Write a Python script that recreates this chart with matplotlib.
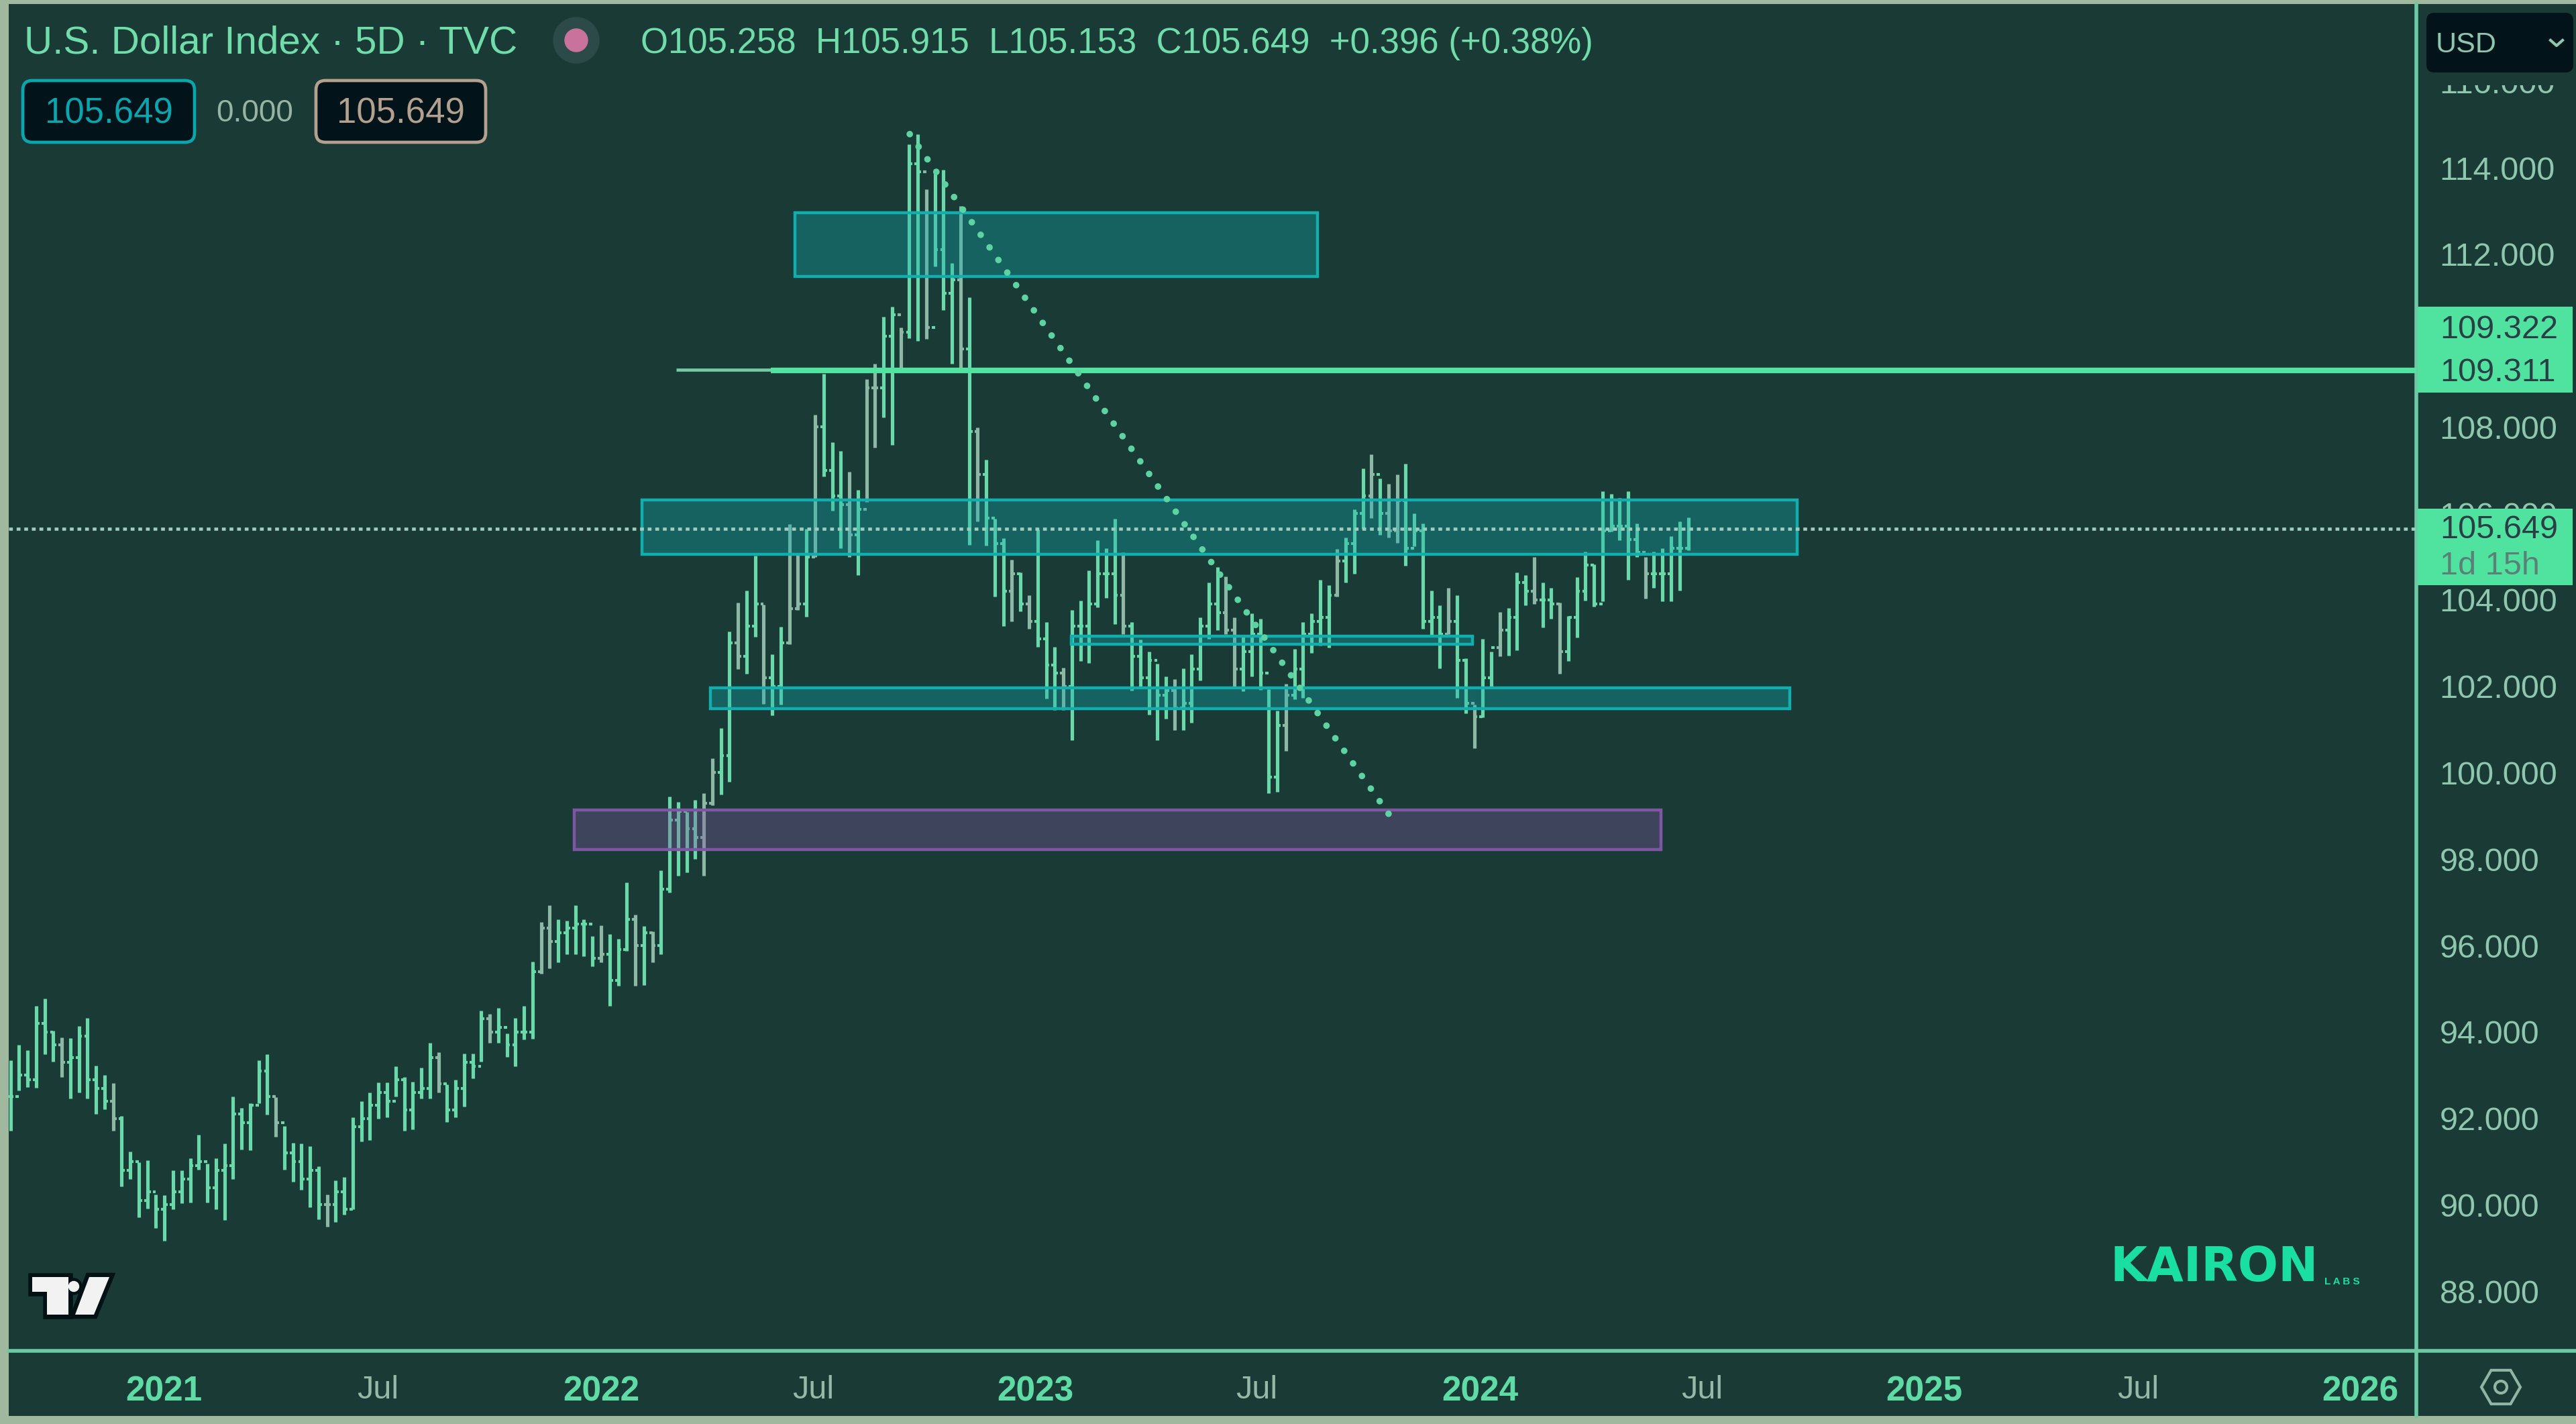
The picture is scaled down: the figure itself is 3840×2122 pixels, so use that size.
import numpy as np
import matplotlib
matplotlib.use("Agg")
import matplotlib.pyplot as plt
from matplotlib.patches import Rectangle, FancyBboxPatch, Polygon, Ellipse, RegularPolygon

# weekly bars
highs = [
    93.35, 93.70, 93.57, 94.60, 94.78, 94.03, 93.87, 93.85, 94.14, 94.32,
    93.22, 93.01, 92.82, 92.05, 91.24, 90.99, 91.03, 90.24, 90.22, 90.79,
    90.79, 91.07, 91.62, 90.96, 91.08, 91.42, 92.51, 92.24, 92.35, 93.35,
    93.48, 92.49, 91.82, 91.44, 91.42, 91.35, 90.89, 90.24, 90.56, 90.64,
    92.03, 92.39, 92.60, 92.84, 92.84, 93.20, 92.96, 92.85, 93.17, 93.75,
    93.53, 92.78, 92.89, 93.50, 93.50, 94.50, 94.42, 94.55, 93.96, 94.32,
    94.60, 95.63, 96.55, 96.94, 96.60, 96.58, 96.94, 96.60, 96.22, 96.47,
    96.27, 96.15, 97.46, 96.71, 96.45, 96.32, 97.74, 99.45, 99.32, 99.09,
    99.37, 99.53, 100.33, 101.04, 103.27, 103.93, 104.22, 105.02, 103.89, 102.74,
    103.37, 105.76, 105.05, 105.64, 108.28, 109.24, 107.65, 107.44, 106.96, 106.55,
    109.11, 109.47, 110.56, 110.79, 110.30, 114.54, 114.77, 113.51, 113.97, 113.95,
    111.80, 113.12, 111.00, 107.99, 107.24, 105.88, 105.42, 104.93, 104.63, 104.10,
    105.63, 103.49, 102.91, 102.43, 103.77, 103.98, 104.68, 105.38, 105.20, 105.88,
    105.10, 103.49, 103.09, 102.80, 102.53, 102.23, 102.17, 102.41, 102.74, 103.60,
    104.40, 104.76, 104.55, 103.60, 103.16, 103.69, 103.56, 101.94, 101.43, 102.05,
    102.86, 103.48, 103.69, 104.46, 104.34, 105.18, 105.44, 106.10, 107.05, 107.37,
    106.81, 106.69, 106.90, 107.15, 106.00, 105.77, 104.22, 103.87, 104.28, 104.10,
    102.65, 101.58, 103.10, 102.80, 103.72, 103.82, 104.63, 104.58, 105.00, 104.40,
    104.28, 103.93, 103.63, 104.52, 105.12, 104.82, 106.51, 106.45, 106.36, 106.51,
    105.77, 105.00, 105.12, 105.20, 105.47, 105.82, 105.915,
]
lows = [
    91.71, 92.64, 92.72, 92.71, 93.48, 93.32, 92.96, 92.46, 92.60, 92.46,
    92.10, 92.21, 91.71, 90.42, 90.60, 89.71, 89.92, 89.46, 89.17, 89.89,
    90.03, 90.06, 90.81, 90.06, 89.89, 89.65, 90.60, 91.28, 91.27, 92.35,
    92.08, 91.57, 90.81, 90.53, 90.35, 89.94, 89.67, 89.49, 89.60, 89.78,
    89.89, 91.46, 91.49, 92.00, 92.03, 92.50, 91.72, 91.74, 92.46, 92.46,
    92.60, 91.91, 92.03, 92.28, 92.92, 93.32, 93.75, 93.75, 93.42, 93.21,
    93.82, 93.84, 95.35, 95.47, 95.62, 95.80, 95.80, 95.75, 95.52, 95.62,
    94.60, 95.07, 95.88, 95.07, 95.08, 95.62, 95.80, 97.23, 97.61, 97.69,
    98.00, 97.61, 99.25, 99.49, 99.79, 102.40, 102.29, 103.15, 101.59, 101.33,
    101.57, 102.98, 103.77, 103.61, 104.99, 106.86, 106.06, 105.20, 104.99, 104.57,
    106.27, 107.53, 108.23, 107.59, 109.36, 110.06, 109.99, 110.04, 111.72, 110.71,
    109.47, 109.35, 105.27, 105.82, 105.26, 104.07, 103.39, 103.50, 103.74, 103.33,
    102.91, 101.72, 101.45, 101.45, 100.76, 102.58, 102.54, 103.83, 104.04, 103.44,
    103.21, 101.90, 101.96, 101.34, 100.75, 101.25, 100.99, 100.99, 101.16, 102.14,
    103.10, 103.30, 103.21, 101.97, 101.88, 102.23, 101.91, 99.53, 99.56, 100.51,
    101.70, 101.73, 102.77, 102.95, 102.89, 104.08, 104.40, 104.61, 105.65, 105.89,
    105.50, 105.44, 105.32, 104.79, 105.24, 103.33, 103.16, 102.41, 103.21, 101.73,
    101.38, 100.57, 101.28, 102.00, 102.69, 102.71, 102.83, 103.87, 103.90, 103.36,
    103.57, 102.29, 102.59, 103.13, 103.99, 103.84, 103.96, 105.59, 105.38, 104.46,
    105.00, 104.03, 104.28, 103.96, 103.96, 104.22, 105.153,
]
closes = [
    92.5, 93.0, 92.9, 94.2, 94.0, 93.7, 93.3, 93.4, 93.9, 92.9,
    92.7, 92.4, 92.0, 90.8, 91.0, 90.1, 90.3, 89.9, 90.0, 90.3,
    90.6, 90.9, 91.0, 90.4, 90.8, 90.9, 92.1, 91.9, 92.3, 93.1,
    92.5, 91.9, 91.2, 91.0, 90.6, 90.8, 90.0, 90.0, 90.3, 89.9,
    91.8, 92.0, 92.3, 92.6, 92.4, 92.9, 92.2, 92.6, 92.7, 93.4,
    92.8, 92.2, 92.7, 93.3, 93.2, 94.3, 94.0, 94.1, 93.7, 94.0,
    94.0, 95.4, 96.4, 96.1, 96.3, 96.4, 96.5, 96.5, 95.7, 95.8,
    95.2, 95.9, 96.6, 96.0, 96.3, 96.0, 97.3, 98.9, 99.1, 98.7,
    98.5, 99.3, 100.0, 100.4, 103.0, 102.7, 103.4, 103.9, 102.2, 102.0,
    103.0, 103.8, 103.9, 105.0, 108.0, 107.0, 106.4, 106.2, 105.5, 106.1,
    108.9, 108.9, 110.1, 110.6, 110.2, 114.1, 113.9, 110.3, 112.1, 111.1,
    111.4, 109.8, 107.9, 106.9, 105.9, 105.3, 104.2, 104.6, 103.9, 103.5,
    103.1, 102.5, 102.3, 102.0, 103.4, 103.4, 103.9, 104.6, 104.6, 104.1,
    103.4, 102.7, 102.2, 102.6, 101.8, 101.9, 101.5, 101.6, 102.4, 103.4,
    103.9, 103.7, 103.3, 102.4, 102.8, 103.2, 102.3, 99.9, 101.1, 101.8,
    102.4, 103.2, 103.5, 103.6, 104.1, 104.9, 105.3, 106.0, 106.4, 106.9,
    106.0, 105.6, 106.3, 105.2, 105.6, 103.5, 103.6, 103.2, 103.5, 102.6,
    101.6, 101.3, 102.2, 102.9, 103.3, 103.6, 104.4, 104.2, 104.0, 104.0,
    103.9, 102.8, 103.6, 104.2, 104.8, 103.9, 105.6, 105.7, 105.7, 105.4,
    105.1, 104.6, 104.6, 104.6, 105.2, 105.2, 105.649,
]
# bar numbers (from 1) that show in the paler colour
pale_bars = [7, 13, 32, 38, 51, 57, 63, 64, 70, 74, 76, 82, 83, 86, 89, 92, 93, 95,
             99, 101, 102, 105, 108, 112, 114, 118, 120, 124, 131, 137, 143, 144,
             150, 156, 160, 162, 163, 169, 172, 175, 179, 182, 192]

# 110 sits fully behind the level tags
price_ticks = [88, 90, 92, 94, 96, 98, 100, 102, 104, 106, 108, 112, 114, 116]
time_ticks = [17.9, 42.9, 69.0, 93.8, 119.7, 145.6, 171.7, 197.6, 223.6, 248.6, 274.5]
time_labels = ["2021", "Jul", "2022", "Jul", "2023", "Jul", "2024", "Jul", "2025", "Jul", "2026"]

# drawn zones: bar from, bar to, price low, price high
teal_zones = [
    (91.66, 152.7, 111.48, 112.96),
    (73.8, 208.7, 105.06, 106.31),
    (123.9, 170.8, 102.97, 103.16),
    (81.8, 207.9, 101.48, 101.97),
]
purple_zone = (65.9, 192.8, 98.22, 99.14)
trend_line = ([105.06, 161.0], [114.78, 99.05])
last_price = 105.649
level_main = 109.311
level_old = 109.322

BG = "#1a3a36"
FRAME = "#a0b89e"
GREEN = "#6ad9aa"
PALE = "#8db8a6"
BRIGHT = "#52e3a1"
SCALE = "#8fc7ae"
AXIS = "#6cc9a3"
DARK = "#02141a"
W, H = 3840, 2122

plt.rcParams["font.family"] = ["Liberation Sans", "DejaVu Sans"]

fig = plt.figure(figsize=(W / 100, H / 100), dpi=100, facecolor=FRAME)
fig.add_artist(Rectangle((13 / W, 1 - 2110 / H), (W - 13) / W, 2104 / H,
                         transform=fig.transFigure, facecolor=BG, edgecolor="none", zorder=1))

ax = fig.add_axes([13 / W, 1 - 2013 / H, (3602 - 13) / W, (2013 - 6) / H], zorder=2)
ax.set_facecolor(BG)
ax.set_xlim(-0.2, 281.07)
ax.set_ylim(86.62, 117.79)

x = np.arange(len(highs))
highs = np.array(highs)
lows = np.array(lows)
closes = np.array(closes)
opens = np.r_[closes[0], closes[:-1]]
pale = np.zeros(len(x), dtype=bool)
pale[np.array(pale_bars) - 1] = True
colors = np.where(pale, PALE, GREEN)

ax.vlines(x, lows, highs, colors=colors, lw=3.7, zorder=2)
ax.hlines(opens, x - 0.38, x, colors=colors, lw=3.0, zorder=2)
ax.hlines(closes, x, x + 0.38, colors=colors, lw=3.0, zorder=2)

for x0, x1, y0, y1 in teal_zones:
    ax.add_patch(Rectangle((x0, y0), x1 - x0, y1 - y0, facecolor=(0.067, 0.68, 0.69, 0.35),
                           edgecolor="#11aeb0", lw=3.2, zorder=3))
x0, x1, y0, y1 = purple_zone
ax.add_patch(Rectangle((x0, y0), x1 - x0, y1 - y0, facecolor=(0.5, 0.34, 0.64, 0.35),
                       edgecolor="#7f56a3", lw=3.2, zorder=3))

ax.hlines(level_old, 77.8, 88.8, colors="#76c9a5", lw=3.4, zorder=4)
ax.hlines(level_main, 88.8, 281.07, colors=BRIGHT, lw=6.0, zorder=4)
ax.plot(*trend_line, color="#5cd3a0", lw=7, linestyle=(0, (0.01, 2.35)),
        dash_capstyle="round", zorder=5)
ax.axhline(last_price, color="#9fcdbd", lw=3.4, linestyle=(0, (1.2, 1.2)), zorder=5)

for side in ["top", "left"]:
    ax.spines[side].set_visible(False)
for side in ["bottom", "right"]:
    ax.spines[side].set_color(AXIS)
    ax.spines[side].set_linewidth(4)

ax.yaxis.tick_right()
ax.set_yticks(price_ticks)
ax.set_yticklabels([f"{p:.3f}" for p in price_ticks])
ax.tick_params(axis="y", length=0, pad=25, labelsize=35, labelcolor=SCALE)
ax.set_xticks(time_ticks)
ax.set_xticklabels(time_labels)
ax.tick_params(axis="x", length=0, pad=26, labelsize=37)
for lab in ax.get_xticklabels():
    if lab.get_text() == "Jul":
        lab.set_color("#95b9a6")
        lab.set_fontweight("normal")
        lab.set_fontsize(35)
    else:
        lab.set_color("#5fdca6")
        lab.set_fontweight("bold")

# everything that sits on top of the chart, in screen pixels
ui = fig.add_axes([0, 0, 1, 1], zorder=3)
ui.set_xlim(0, W)
ui.set_ylim(H, 0)
ui.axis("off")
ui.patch.set_alpha(0)

ui.plot([3602, W], [2013, 2013], color=AXIS, lw=4)
ui.plot([3602, 3602], [2013, 2110], color=AXIS, lw=4)

ui.text(36, 65, "U.S. Dollar Index · 5D · TVC", color="#6fdcaa", fontsize=42, va="center")
ui.add_patch(Ellipse((859, 60), 68, 68, color="#2c4a48"))
ui.add_patch(Ellipse((859, 60), 34, 34, color="#c8729c"))
ui.text(955, 65, "O105.258  H105.915  L105.153  C105.649  +0.396 (+0.38%)",
        color="#6fdcaa", fontsize=38, va="center")


def value_box(x0, x1, label, color):
    ui.add_patch(FancyBboxPatch((x0 + 10, 130), x1 - x0 - 20, 72, boxstyle="round,pad=10,rounding_size=14",
                                facecolor=DARK, edgecolor=color, lw=3.4))
    ui.text((x0 + x1) / 2, 169, label, color=color, fontsize=38, ha="center", va="center")


value_box(34, 290, "105.649", "#0aa5ad")
ui.text(380, 169, "0.000", color="#96b3a4", fontsize=33, ha="center", va="center")
value_box(471, 724, "105.649", "#b3a08f")

# price scale widgets
ui.add_patch(Rectangle((3610, 8), 230, 119, facecolor=BG, edgecolor="none"))
ui.add_patch(FancyBboxPatch((3625, 27), 203, 73, boxstyle="round,pad=8,rounding_size=12",
                            facecolor=DARK, edgecolor="none"))
ui.text(3631, 67, "USD", color=SCALE, fontsize=31, va="center")
ui.plot([3802, 3811, 3820], [60, 68, 60], color=SCALE, lw=3)

for y0, y1 in [(457, 585), (758, 872)]:
    ui.add_patch(Rectangle((3604, y0), 231, y1 - y0, facecolor="#50e3a0", edgecolor="none"))
tag_dark = "#2a3f45"
ui.text(3637, 492, "109.322", color=tag_dark, fontsize=35, va="center")
ui.text(3637, 556, "109.311", color=tag_dark, fontsize=35, va="center")
ui.text(3637, 790, "105.649", color=tag_dark, fontsize=35, va="center")
ui.text(3637, 843, "1d 15h", color="#5b8075", fontsize=35, va="center")

# settings icon
ui.add_patch(RegularPolygon((3728, 2067), 6, radius=29, orientation=np.pi / 2,
                            facecolor="none", edgecolor="#8fb5a5", lw=3))
ui.add_patch(Ellipse((3728, 2067), 18, 18, facecolor="none", edgecolor="#8fb5a5", lw=3))

# logos
tv_t = [(48, 1903), (102, 1903), (102, 1959), (70, 1959), (70, 1925), (48, 1925)]
tv_slash = [(133, 1903), (163, 1903), (140, 1959), (112, 1959)]
for shape in (tv_t, tv_slash):
    ui.add_patch(Polygon(shape, facecolor="#021214", edgecolor="#021214", lw=9, joinstyle="miter"))
ui.add_patch(Ellipse((110, 1917), 24, 24, color="#021214"))
for shape in (tv_t, tv_slash):
    ui.add_patch(Polygon(shape, facecolor="#f2f2f2", edgecolor="none"))
ui.add_patch(Ellipse((110, 1917), 15, 15, color="#f2f2f2"))

ui.text(3146, 1890, "KAIRON", color="#1adfa3", fontsize=51, family=["DejaVu Sans"],
        fontweight="bold", va="center")
ui.text(3465, 1910, "L A B S", color="#1adfa3", fontsize=11, fontweight="bold", va="center")

fig.savefig("out.png", dpi=100, facecolor=FRAME)
